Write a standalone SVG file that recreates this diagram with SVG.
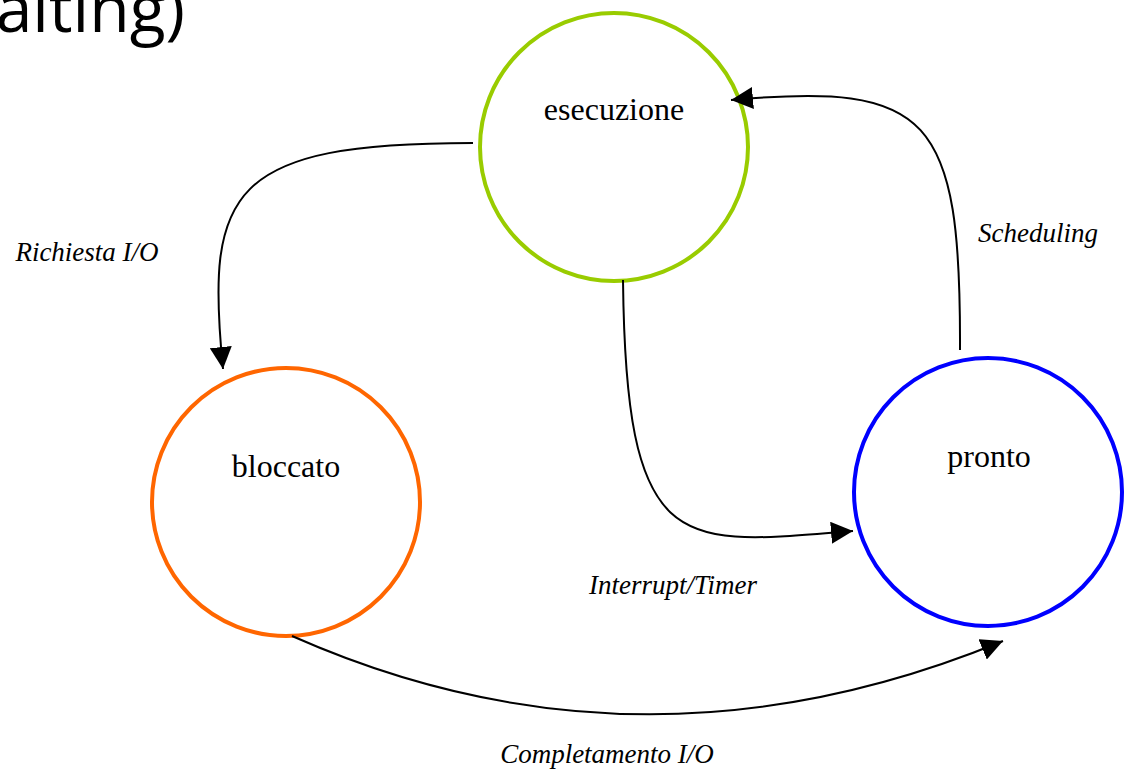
<svg xmlns="http://www.w3.org/2000/svg" width="1126" height="769" viewBox="0 0 1126 769">
  <style>
    .state { fill: #ffffff; stroke-width: 4; }
    .name { font-family: "Liberation Serif", "Times New Roman", serif; font-size: 32px; fill: #000; text-anchor: middle; }
    .label { font-family: "Liberation Serif", "Times New Roman", serif; font-size: 27px; font-style: italic; fill: #000; text-anchor: middle; }
    .edge { fill: none; stroke: #000; stroke-width: 2; marker-end: url(#arrow); }
    .title { font-family: "Open Sans", "Liberation Sans", sans-serif; font-size: 66px; fill: #000; text-anchor: end; }
  </style>
  <defs>
    <marker id="arrow" markerUnits="userSpaceOnUse" markerWidth="22" markerHeight="22" refX="20" refY="10" orient="auto" viewBox="0 0 20 20">
      <path d="M0,0 L20,10 L0,20 z" fill="#000"/>
    </marker>
  </defs>

  <rect width="1126" height="769" fill="#ffffff"/>

  <text class="title" x="185" y="32">aiting)</text>

  <g id="esecuzione">
    <circle class="state" cx="614" cy="147" r="134" stroke="#99cc00"/>
    <text class="name" x="614" y="120">esecuzione</text>
  </g>

  <g id="bloccato">
    <circle class="state" cx="286" cy="502" r="134" stroke="#ff6600"/>
    <text class="name" x="286" y="477">bloccato</text>
  </g>

  <g id="pronto">
    <circle class="state" cx="988" cy="492" r="134" stroke="#0000ff"/>
    <text class="name" x="989" y="467">pronto</text>
  </g>

  <g id="connectors">
    <path class="edge" d="M473,143 C230,143 205,190 223,369"/>
    <path class="edge" d="M960,350 C961,115 930,82 731,100"/>
    <path class="edge" d="M623,280 C626,560 680,545 853,531"/>
    <path class="edge" d="M292,636 Q640,790 1003,641"/>

    <text class="label" x="87" y="261">Richiesta I/O</text>
    <text class="label" x="1038" y="242">Scheduling</text>
    <text class="label" x="673" y="594">Interrupt/Timer</text>
    <text class="label" x="607" y="763">Completamento I/O</text>
  </g>
</svg>
